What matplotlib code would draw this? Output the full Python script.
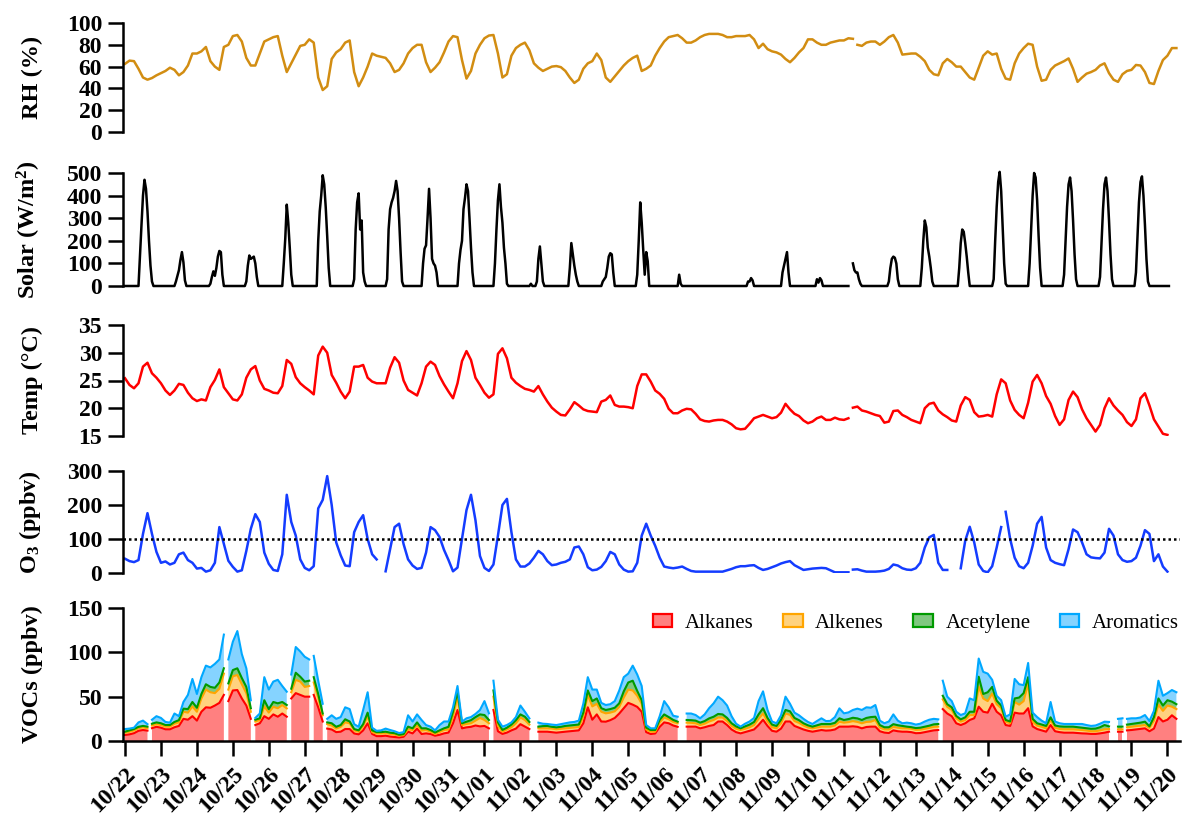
import numpy as np
import matplotlib
matplotlib.use("Agg")
import matplotlib.pyplot as plt
from matplotlib.patches import Patch

plt.rcParams['font.family'] = ['Liberation Serif', 'DejaVu Serif']
plt.rcParams['font.weight'] = 'bold'
plt.rcParams['mathtext.fontset'] = 'custom'
plt.rcParams['mathtext.rm'] = 'Liberation Serif:bold'
plt.rcParams['mathtext.bf'] = 'Liberation Serif:bold'
plt.rcParams['mathtext.it'] = 'Liberation Serif:bold'

nan = np.nan
STEP = 0.125          # 3-hourly samples, in days since 10/22 00:00
SOLAR_STEP = 1 / 24.  # hourly samples

date_labels = ['10/22', '10/23', '10/24', '10/25', '10/26', '10/27', '10/28', '10/29',
               '10/30', '10/31', '11/01', '11/02', '11/03', '11/04', '11/05', '11/06',
               '11/07', '11/08', '11/09', '11/10', '11/11', '11/12', '11/13', '11/14',
               '11/15', '11/16', '11/17', '11/18', '11/19', '11/20']

# ---------------- RH (%) ----------------
rh = [62.5, 65.5, 65, 58, 50, 48, 49.5, 52,
      54, 56, 59, 57, 52, 55, 61, 72,
      72, 74, 78, 65, 60, 57, 78, 80,
      88, 89, 83, 68, 61, 61, 72, 83,
      85, 87, 88, 70, 55, 63, 71, 79,
      80, 85, 82, 50, 38.5, 42, 67, 73,
      76, 82, 84, 55, 42, 50, 60, 72,
      70, 69, 68, 63, 55, 57, 63, 72,
      77, 80, 80, 64, 55, 59, 64, 73,
      83, 88, 87, 66, 49, 56, 72, 80,
      86, 88.5, 89, 72, 50, 53, 70, 77,
      80, 82, 75, 63, 59, 56, 58, 60,
      60.5, 59.5, 56, 50, 45, 48, 58, 63,
      65, 72, 66, 50, 46, 51, 56, 61,
      65, 68, 70, 56, 58, 61, 70, 77,
      83, 87, 88, 89, 86, 82, 82, 84,
      87, 89, 90, 90, 90, 89, 87, 87,
      88, 88, 88, 89, 85, 77, 81, 76,
      74, 73, 71, 67, 64, 68, 73, 77,
      85, 85, 82, 80, 80, 82, 83, 84,
      84, 86, 85.5, 80, 79, 82, 83, 83,
      80, 83, 87, 89, 82, 71, 71.5, 72,
      72, 69, 65, 57, 53, 52, 63, 67,
      64, 60, 60, 55, 50, 48, 59, 70,
      74, 71, 72, 58, 49, 48, 63, 72,
      77, 81, 80, 60, 47, 48, 57, 61,
      63, 65, 67.5, 58, 46, 50, 53.5, 55,
      57, 61, 63, 54, 48, 46, 53, 56,
      57, 61.5, 61, 55, 45, 44, 56, 66,
      70, 77, 77]
rh_breaks = [20.31]

# ---------------- Solar (W/m2), hourly rows per day ----------------
solar_hourly = [
    [0, 0, 0, 0, 0, 0, 0, 0, 0, 0, 140, 270, 400, 470, 430, 330, 200, 90, 20, 0, 0, 0, 0, 0],
    [0, 0, 0, 0, 0, 0, 0, 0, 0, 0, 20, 45, 70, 115, 150, 105, 25, 0, 0, 0, 0, 0, 0, 0],
    [0, 0, 0, 0, 0, 0, 0, 0, 0, 10, 40, 65, 45, 80, 130, 155, 150, 50, 0, 0, 0, 0, 0, 0],
    [0, 0, 0, 0, 0, 0, 0, 0, 0, 20, 90, 135, 120, 125, 130, 100, 40, 0, 0, 0, 0, 0, 0, 0],
    [0, 0, 0, 0, 0, 0, 0, 0, 0, 0, 100, 210, 360, 280, 170, 50, 0, 0, 0, 0, 0, 0, 0, 0],
    [0, 0, 0, 0, 0, 0, 0, 0, 0, 200, 330, 400, 490, 450, 350, 220, 80, 0, 0, 0, 0, 0, 0, 0],
    [0, 0, 0, 0, 0, 0, 0, 0, 0, 30, 250, 370, 410, 250, 290, 60, 20, 0, 0, 0, 0, 0, 0, 0],
    [0, 0, 0, 0, 0, 0, 0, 30, 250, 340, 370, 390, 420, 465, 420, 300, 150, 20, 0, 0, 0, 0, 0, 0],
    [0, 0, 0, 0, 0, 0, 0, 100, 165, 180, 300, 430, 300, 120, 100, 90, 60, 0, 0, 0, 0, 0, 0, 0],
    [0, 0, 0, 0, 0, 0, 0, 100, 160, 200, 340, 390, 450, 420, 300, 170, 60, 0, 0, 0, 0, 0, 0, 0],
    [0, 0, 0, 0, 0, 0, 0, 100, 250, 380, 450, 350, 280, 170, 100, 10, 0, 0, 0, 0, 0, 0, 0, 0],
    [0, 0, 0, 0, 0, 0, 0, 10, 0, 0, 0, 20, 120, 175, 100, 20, 0, 0, 0, 0, 0, 0, 0, 0],
    [0, 0, 0, 0, 0, 0, 0, 0, 0, 80, 190, 140, 90, 50, 20, 0, 0, 0, 0, 0, 0, 0, 0, 0],
    [0, 0, 0, 0, 0, 0, 0, 20, 30, 40, 80, 130, 145, 140, 60, 0, 0, 0, 0, 0, 0, 0, 0, 0],
    [0, 0, 0, 0, 0, 0, 50, 200, 370, 280, 160, 50, 150, 110, 0, 0, 0, 0, 0, 0, 0, 0, 0, 0],
    [0, 0, 0, 0, 0, 0, 0, 0, 0, 0, 50, 10, 0, 0, 0, 0, 0, 0, 0, 0, 0, 0, 0, 0],
    [0, 0, 0, 0, 0, 0, 0, 0, 0, 0, 0, 0, 0, 0, 0, 0, 0, 0, 0, 0, 0, 0, 0, 0],
    [0, 0, 0, 0, 0, 0, 0, 0, 20, 20, 35, 25, 0, 0, 0, 0, 0, 0, 0, 0, 0, 0, 0, 0],
    [0, 0, 0, 0, 0, 0, 0, 60, 90, 120, 150, 60, 0, 0, 0, 0, 0, 0, 0, 0, 0, 0, 0, 0],
    [0, 0, 0, 0, 0, 0, 30, 15, 35, 25, 0, 0, 0, 0, 0, 0, 0, 0, 0, 0, 0, 0, 0, 0],
    [0, 0, 0, 0, nan, nan, 100, 70, 60, 60, 30, 10, 0, 0, 0, 0, 0, 0, 0, 0, 0, 0, 0, 0],
    [0, 0, 0, 0, 0, 0, 20, 80, 120, 130, 125, 100, 30, 0, 0, 0, 0, 0, 0, 0, 0, 0, 0, 0],
    [0, 0, 0, 0, 80, 200, 290, 260, 170, 130, 80, 20, 0, 0, 0, 0, 0, 0, 0, 0, 0, 0, 0, 0],
    [0, 0, 0, 0, 0, 80, 190, 250, 240, 190, 130, 60, 0, 0, 0, 0, 0, 0, 0, 0, 0, 0, 0, 0],
    [0, 0, 0, 0, 30, 200, 350, 460, 505, 420, 260, 100, 10, 0, 0, 0, 0, 0, 0, 0, 0, 0, 0, 0],
    [0, 0, 0, 0, 100, 250, 400, 500, 480, 380, 220, 80, 0, 0, 0, 0, 0, 0, 0, 0, 0, 0, 0, 0],
    [0, 0, 0, 50, 200, 350, 450, 480, 420, 290, 140, 30, 0, 0, 0, 0, 0, 0, 0, 0, 0, 0, 0, 0],
    [0, 0, 0, 40, 190, 340, 450, 480, 420, 290, 140, 30, 0, 0, 0, 0, 0, 0, 0, 0, 0, 0, 0, 0],
    [0, 0, 0, 60, 220, 370, 460, 485, 400, 270, 120, 20, 0, 0, 0, 0, 0, 0, 0, 0, 0, 0, 0, 0],
    [0, 0] + [nan] * 22,
]

# ---------------- Temperature (C) ----------------
temp = [25.4, 24.2, 23.6, 24.5, 27.5, 28.2, 26.3, 25.5,
        24.5, 23.2, 22.4, 23.2, 24.4, 24.2, 22.8, 21.8,
        21.3, 21.6, 21.4, 23.8, 25.1, 27, 23.8, 22.7,
        21.6, 21.4, 22.5, 25.5, 27, 27.6, 25, 23.5,
        23.2, 22.8, 22.7, 24, 28.7, 28, 25.6, 24.5,
        23.8, 23.2, 22.5, 29.5, 31.1, 30, 26, 24.6,
        23, 21.8, 23, 27.5, 27.5, 27.8, 25.5, 24.8,
        24.5, 24.5, 24.5, 27.3, 29.2, 28.2, 25, 23.3,
        22.8, 22.3, 24.5, 27.5, 28.4, 27.8, 25.8, 24.3,
        23, 21.8, 24.5, 28.5, 30.3, 28.7, 25.5, 24.2,
        22.8, 21.9, 22.5, 29.8, 30.8, 29, 25.5, 24.6,
        24, 23.5, 23.3, 23, 24, 22.5, 21.2, 20.1,
        19.4, 18.8, 18.7, 19.8, 21.1, 20.5, 19.8, 19.5,
        19.4, 19.3, 21.2, 21.5, 22.3, 20.6, 20.3, 20.3,
        20.2, 20, 24, 26.1, 26.1, 24.8, 23.2, 22.6,
        21.7, 19.9, 19.1, 19.1, 19.6, 19.9, 19.8, 19,
        18, 17.7, 17.6, 17.8, 17.9, 17.9, 17.6, 17.1,
        16.4, 16.2, 16.3, 17.2, 18.2, 18.5, 18.8, 18.5,
        18.2, 18.4, 19.2, 20.8, 19.8, 19, 18.6, 17.8,
        17.3, 17.6, 18.2, 18.5, 17.9, 17.9, 18.3, 18,
        17.9, 18.2, 20.1, 20.3, 19.6, 19.4, 19.1, 18.8,
        18.6, 17.4, 17.6, 19.5, 19.6, 18.8, 18.4, 17.9,
        17.6, 17.3, 20, 20.8, 21, 19.6, 18.9, 18.4,
        17.8, 17.6, 20.5, 22, 21.5, 19.3, 18.5, 18.6,
        18.8, 18.5, 22.5, 25.2, 24.5, 21.4, 19.7, 18.8,
        18.2, 21, 24.8, 26, 24.5, 22.2, 20.8, 18.6,
        17, 18, 21.5, 23, 22, 19.8, 18.2, 17,
        15.8, 17, 20, 21.8, 20.5, 19.6, 18.8, 17.5,
        16.8, 18, 21.8, 22.7, 20.5, 18, 16.7, 15.4,
        15.2, nan, nan]
temp_breaks = [20.19]

# ---------------- O3 (ppbv) ----------------
o3 = [42, 35, 32, 38, 115, 176, 115, 62,
      30, 34, 25, 30, 55, 60, 38, 30,
      13, 15, 4, 8, 30, 135, 85, 36,
      18, 4, 8, 65, 130, 173, 150, 60,
      27, 9, 6, 55, 230, 150, 110, 40,
      15, 8, 20, 190, 215, 285, 200, 90,
      52, 22, 20, 120, 150, 170, 100, 55,
      40, nan, 5, 70, 135, 145, 85, 40,
      22, 12, 15, 60, 135, 126, 106, 68,
      38, 5, 16, 100, 185, 230, 155, 50,
      15, 6, 25, 110, 200, 218, 120, 40,
      19, 19, 28, 45, 65, 55, 35, 23,
      25, 30, 33, 40, 75, 78, 55, 17,
      8, 10, 18, 35, 62, 55, 25, 10,
      4, 5, 30, 110, 145, 110, 80, 45,
      19, 16, 14, 16, 19, 12, 6, 4,
      4, 4, 4, 4, 4, 4, 8, 12,
      17, 20, 20, 22, 23, 15, 9, 12,
      17, 22, 28, 32, 35, 23, 16, 9,
      11, 13, 14, 15, 14, 8, 2, 2,
      2, 2, 10, 11, 7, 4, 4, 4,
      5, 7, 12, 25, 22, 14, 10, 9,
      14, 30, 75, 105, 112, 30, 9, 9,
      nan, nan, 14, 95, 136, 90, 25, 6,
      2, 20, 75, 135, 180, 100, 45, 20,
      14, 30, 80, 145, 165, 75, 38, 30,
      26, 23, 70, 128, 120, 90, 55, 46,
      44, 43, 60, 130, 110, 55, 38, 33,
      35, 45, 80, 126, 115, 35, 55, 19,
      4, nan, nan]
o3_breaks = [20.19, 24.44]
o3_standard = 100

# ---------------- VOCs (ppbv), stacked components ----------------
alkanes = [6.8, 7.5, 8.8, 11.5, 12.4, 11.7, 14.5, 16,
           15, 13.2, 13.2, 15.5, 17, 25, 24, 28,
           23, 33, 38, 37.5, 40, 43, 52, 45,
           57, 57.5, 48, 40, 25, 18, 20, 28,
           25, 30, 27.4, 31, 27.4, 48, 54, 52,
           50, 50, 52, 38, 22, 14, 13, 10,
           10.5, 13.5, 13.5, 8.5, 7.5, 12, 20, 8,
           5.5, 5.5, 6, 5, 4.5, 4, 4.8, 10.5,
           8.6, 14, 7.9, 8.6, 7.9, 6, 7, 8.6,
           9.5, 20, 35, 14.3, 15.4, 16, 17.5, 16.5,
           17, 14.3, 35, 11, 8, 9.5, 12, 14,
           19, 16.2, 13.5, nan, 10.5, 10.5, 10.5, 10,
           9.4, 10, 10.5, 11, 11.5, 12, 20, 38,
           24, 30, 22, 21.8, 23.5, 26, 31, 37,
           43, 41, 38.5, 33, 10, 7.9, 8.5, 16,
           21, 20, 17.5, 16, nan, 16.2, 16.2, 16.2,
           14.3, 15.5, 17, 18, 22, 22, 18, 13,
           10, 8.6, 10, 11.5, 13, 18, 24, 17,
           11.5, 10.5, 14, 22, 22, 17, 15, 13,
           11.5, 10.5, 11.5, 12.4, 11.7, 12, 13, 16.2,
           16.2, 16.2, 16.6, 16, 14.3, 15.8, 16.2, 16.2,
           11, 9.5, 9, 12, 11, 10.5, 10.5, 10,
           8.8, 9, 10, 11, 12, 12.4, 36, 31,
           28, 20, 18, 20, 23.7, 25.6, 38.7, 33,
           32, 42, 33, 29, 18, 17, 32, 31,
           31, 37, 16.5, 13.5, 12, 10.5, 18, 11,
           10, 9.4, 9.4, 9.4, 9, 8.6, 8.4, 8,
           8, 8.6, 9.4, 10.5, nan, 10.5, 10.5, 12,
           12.4, 13, 13.5, 14.3, 11, 14, 27, 22,
           24, 29, 25]
alkenes = [2.6, 3.0, 3.2, 3.0, 3.0, 2.6, 3.0, 3,
           3, 3.0, 3.0, 4.0, 4, 8, 8, 11,
           10, 15, 20, 17.5, 14, 16, 24, 13,
           16, 16.9, 16, 14, 8, 4, 3.7, 11,
           7, 8.5, 9.6, 9.5, 9.4, 7, 15, 15,
           11, 12, 14, 11, 7, 5, 4.5, 4,
           5.5, 7.5, 6.5, 3.5, 3, 5, 8, 2,
           3, 3, 3, 3, 2.7, 2, 1.8, 2.7,
           3.8, 4, 3.8, 3.8, 2.6, 2, 3, 3.8,
           3.5, 8, 15, 3.7, 3.8, 4, 5.5, 9.5,
           6.7, 5.7, 15, 6, 2.5, 3.5, 3.5, 6,
           7.5, 7.5, 5, nan, 3.8, 3.8, 3.8, 4,
           3.8, 3.8, 3.8, 3.8, 3.7, 3.8, 8, 14,
           15, 12, 11, 9.4, 8.5, 7.5, 7.5, 12,
           15, 16, 12.5, 9, 3, 2.6, 2, 5,
           5.5, 4.5, 4, 4, nan, 4.5, 4.3, 3.8,
           3.7, 4, 5, 5.7, 4.5, 4.5, 4.5, 4,
           3.8, 3.8, 3.8, 4, 5, 7, 7, 5,
           4, 3.8, 6, 9, 7.5, 5.5, 5.5, 4.5,
           3.8, 3.8, 3.8, 3.8, 4.5, 4.2, 4.5, 5.6,
           4.5, 5.1, 5.8, 5.5, 5.7, 5.7, 5.6, 7.5,
           4, 3.7, 4, 4, 4, 3.8, 3.8, 3.8,
           3.8, 3.8, 3.8, 3.8, 4, 3.8, 11, 7.5,
           7, 5.6, 3.8, 3.7, 5.6, 3.7, 22.6, 15,
           13, 11.5, 8.5, 8, 3.8, 3, 12, 10,
           14, 28, 5.5, 3.8, 4, 3.8, 5.7, 4,
           3.6, 3.8, 3.8, 3.8, 3.8, 3.8, 3.4, 3,
           3, 3.4, 3.8, 3, nan, 2.7, 2.7, 3.5,
           3.8, 3.8, 3.8, 3.7, 3.8, 9, 14, 12,
           16, 9.7, 11]
acetylene = [1.1, 1.5, 1.5, 1.5, 1.6, 1.9, 2.0, 2,
             2, 1.8, 1.8, 2.0, 2.5, 3.5, 4, 5,
             4.5, 5, 6, 6, 6, 7, 6, 7,
             7, 7.6, 7, 7, 4, 2, 1.9, 7,
             4, 5.5, 5.5, 3.5, 3.8, 4, 8, 5.5,
             6, 6, 6, 4, 2, 2, 2.5, 2,
             2, 3.5, 2, 1.5, 1.5, 2, 4, 2,
             1.5, 1.5, 1.5, 1.4, 1.6, 1, 1.2, 3,
             1.9, 3, 2.6, 1.9, 1.9, 1.5, 2, 1.9,
             3, 5, 6, 2, 2.6, 3.5, 4, 4,
             5.6, 3.7, 7, 4, 2, 2, 3, 3.5,
             3.5, 3.7, 3, nan, 1.9, 2.5, 2.7, 2,
             2.2, 2.2, 2.7, 2.7, 2.8, 2.8, 4, 5,
             6, 6, 4, 3.8, 4, 4, 4, 7,
             8, 11, 5.5, 4, 2, 1.9, 1.9, 3,
             3.5, 2.5, 2.3, 1.8, nan, 3, 3, 3,
             2.7, 3, 3.5, 3.7, 4, 3.5, 3.5, 3,
             2.7, 1.9, 2.7, 3, 3.5, 5, 6, 4,
             3, 2.7, 4, 4, 4, 3.5, 3, 2.5,
             2.4, 1.9, 2.4, 3, 3, 3, 3, 3.8,
             3, 3.4, 3.8, 4, 3.7, 4.5, 5.2, 3.7,
             3, 2.3, 2.5, 3, 2.8, 2.7, 1.9, 1.8,
             2, 2.2, 2.4, 2.5, 2.8, 3, 4, 3,
             3, 2.6, 2.6, 3, 3.7, 3.7, 11.2, 5,
             10, 7.5, 4, 3, 1.9, 2, 4, 8,
             9, 7, 3, 2.7, 2.6, 2.7, 3, 2.5,
             2.9, 3, 3, 3, 2.8, 2.6, 2.7, 2.8,
             3, 3.5, 4.8, 3, nan, 3, 3, 3,
             3, 3, 3.4, 3.8, 1.7, 4, 7, 6,
             6, 5.7, 5.5]
aromatics = [3.0, 2.0, 1.5, 5.0, 6.0, 2.8, 4.5, 7,
             6, 3.5, 2.7, 9.5, 4.5, 7.5, 16, 26,
             15.5, 19, 21, 22, 27, 26, 38, 27,
             32, 42, 27, 21, 9, 2, 5.4, 26,
             22, 23, 26.5, 18, 15, 16, 29, 28.5,
             28, 24, 24, 15, 11, 4, 9, 9,
             9, 13.5, 14, 5.5, 4, 16, 23, 3,
             1.5, 2, 3.5, 3, 2.2, 2, 2.2, 12.8,
             7.7, 9, 9.4, 3.7, 3.8, 2.5, 6, 7.7,
             6, 5, 6, 1.8, 3.8, 3.5, 3.5, 5,
             15.7, 7.5, 11, 3, 3.7, 3, 2.5, 3.5,
             10, 5.6, 4, nan, 4.5, 2.7, 2.2, 2.5,
             2.6, 3, 3, 3.5, 3.5, 4.4, 10, 15,
             13, 10, 6, 5.6, 5.5, 7.5, 14.5, 16,
             10, 17, 18.5, 16, 3, 1.9, 1.9, 4,
             15, 11, 4.7, 5.6, nan, 7.3, 7.5, 6.3,
             4.9, 7.5, 11.5, 15.1, 19.5, 16, 14, 8,
             3, 1.9, 3, 3.5, 4.5, 15, 19, 9,
             3.5, 3, 5, 15, 8.5, 6, 5.5, 5,
             3.8, 3, 4.8, 6.4, 3.3, 3.5, 6.5, 11.2,
             7.5, 7.5, 8.8, 11, 11.3, 12, 10.5, 13.2,
             5, 4.5, 6.5, 11, 5.2, 3, 4.5, 4.4,
             3.9, 4.5, 5.8, 6.7, 6.2, 5.2, 17, 8.5,
             7, 4.8, 4.9, 4.5, 15, 13, 20.5, 25,
             21, 8, 5.5, 6, 3.7, 8, 22, 15,
             9, 16, 7, 7, 4.4, 3, 17.3, 4.5,
             3.5, 3, 3, 3, 3.6, 4.2, 3.5, 3.2,
             3.5, 4, 3.8, 5, nan, 8.8, 9.4, 6.5,
             6.4, 5.8, 5.8, 7.5, 6, 7, 20, 11,
             8, 13.1, 13.5]
voc_breaks = [0.69, 2.81, 3.56, 4.56, 5.19, 5.56, 10.19, 22.69, 27.81]
voc_names = ['Alkanes', 'Alkenes', 'Acetylene', 'Aromatics']

# ---------------- styles ----------------
RH_COLOR = '#D28D12'
SOLAR_COLOR = 'black'
TEMP_COLOR = '#FF0000'
O3_COLOR = '#143CFF'
VOC_LINE = ['#FF0000', '#FFA500', '#009A00', '#00A8FF']
VOC_FILL = ['#FF8080', '#FFD27F', '#80C880', '#85D3FF']


def insert_breaks(t, arrays, breaks):
    t = np.asarray(t, float)
    arrays = [np.asarray(a, float) for a in arrays]
    for b in sorted(breaks):
        i = np.searchsorted(t, b)
        t = np.insert(t, i, b)
        arrays = [np.insert(a, i, np.nan) for a in arrays]
    return t, arrays


XMIN, XMAX = -0.056, 29.35
LEFT, WIDTH = 123 / 1184, 1057 / 1184
H = 814.0

fig = plt.figure(figsize=(11.84, 8.14), dpi=100)
fig.patch.set_facecolor('white')


def make_axes(top_px, bottom_px):
    return fig.add_axes([LEFT, 1 - bottom_px / H, WIDTH, (bottom_px - top_px) / H])


def style(ax, ylim, yticks, label, show_x=False):
    ax.set_xlim(XMIN, XMAX)
    ax.set_ylim(*ylim)
    ax.set_yticks(yticks)
    ax.spines['top'].set_visible(False)
    ax.spines['right'].set_visible(False)
    ax.spines['left'].set_linewidth(1.8)
    ax.spines['bottom'].set_linewidth(1.8)
    ax.tick_params(axis='y', direction='out', length=11, width=1.8, labelsize=17, pad=4)
    if show_x:
        ax.set_xticks(np.arange(len(date_labels)))
        ax.set_xticklabels(date_labels, rotation=45, ha='right', rotation_mode='anchor')
        ax.tick_params(axis='x', direction='out', length=11, width=1.8, labelsize=17, pad=5)
    else:
        ax.spines['bottom'].set_visible(False)
        ax.tick_params(axis='x', bottom=False, labelbottom=False)
    ax.set_ylabel(label, fontsize=17.5, fontweight='bold')
    ax.yaxis.set_label_coords(-0.076, 0.5)
    ax.patch.set_alpha(0)


# RH
ax1 = make_axes(23, 132)
t, (v,) = insert_breaks(np.arange(len(rh)) * STEP, [rh], rh_breaks)
ax1.plot(t, v, color=RH_COLOR, lw=1.8)
style(ax1, (0, 100), [0, 20, 40, 60, 80, 100], 'RH (%)')

# Solar
ax2 = make_axes(173, 286)
s = np.asarray(solar_hourly, float).ravel()
ax2.plot(np.arange(len(s)) * SOLAR_STEP, s, color=SOLAR_COLOR, lw=1.8, clip_on=False)
style(ax2, (0, 500), [0, 100, 200, 300, 400, 500], r'Solar (W/m$^{2}$)')

# Temp
ax3 = make_axes(325, 436)
t, (v,) = insert_breaks(np.arange(len(temp)) * STEP, [temp], temp_breaks)
ax3.plot(t, v, color=TEMP_COLOR, lw=1.8)
style(ax3, (15, 35), [15, 20, 25, 30, 35], 'Temp (°C)')

# O3
ax4 = make_axes(471, 573)
t, (v,) = insert_breaks(np.arange(len(o3)) * STEP, [o3], o3_breaks)
ax4.plot(t, v, color=O3_COLOR, lw=1.8)
ax4.axhline(o3_standard, color='black', lw=1.8, ls=(0, (1, 1.2)))
style(ax4, (0, 300), [0, 100, 200, 300], r'O$_{3}$ (ppbv)')

# VOCs
ax5 = make_axes(608, 741)
t, comps = insert_breaks(np.arange(len(alkanes)) * STEP,
                         [alkanes, alkenes, acetylene, aromatics], voc_breaks)
cum = np.cumsum(np.vstack(comps), axis=0)
lower = np.zeros_like(cum[0])
for i in range(4):
    ax5.fill_between(t, lower, cum[i], color=VOC_FILL[i], lw=0)
    lower = cum[i]
for i in range(4):
    ax5.plot(t, cum[i], color=VOC_LINE[i], lw=1.5)
style(ax5, (0, 150), [0, 50, 100, 150], 'VOCs (ppbv)', show_x=True)

handles = [Patch(facecolor=VOC_FILL[i], edgecolor=VOC_LINE[i], linewidth=1.6, label=voc_names[i])
           for i in range(4)]
ax5.legend(handles=handles, loc='center right', bbox_to_anchor=(0.999, 0.887), ncol=4,
           frameon=False, prop={'family': 'Liberation Serif', 'weight': 'normal', 'size': 15},
           handlelength=0.95, handleheight=0.6, handletextpad=0.6, columnspacing=1.4,
           borderpad=0, borderaxespad=0)

fig.savefig('out.png', dpi=100, facecolor='white')
